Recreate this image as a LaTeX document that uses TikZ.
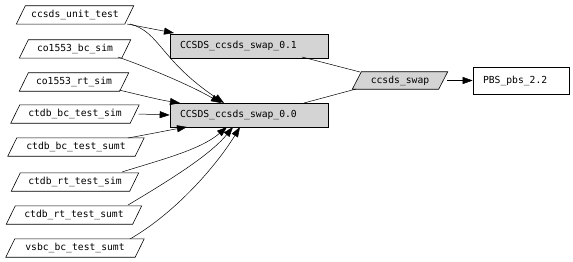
\documentclass[tikz,border=0pt]{standalone}
\usepackage{fontspec}
\setmonofont{DejaVu Sans Mono}
\usetikzlibrary{arrows.meta}
\begin{document}
\begin{tikzpicture}[x=1pt,y=-1pt,
  lbl/.style={font=\ttfamily\fontsize{9.7}{10}\selectfont, inner sep=0pt},
  src/.style={lbl, minimum height=18pt},
  box/.style={lbl, draw, line width=0.6pt, minimum height=24pt, anchor=center, align=left, inner xsep=10pt},
  grey/.style={fill=black!17},
  par/.style={draw, line width=0.6pt},
  edge/.style={line width=0.5pt},
  arr/.style={edge, -{Triangle[length=10pt,width=7pt]}}]
\useasboundingbox (0,0) rectangle (573,262);
% source parallelograms
\node[src, minimum width=108pt] (u)  at (75,15)  {ccsds\_unit\_test};
\node[src, minimum width=102pt] (bs) at (75,49)  {co1553\_bc\_sim};
\node[src, minimum width=100pt] (rs) at (74,82)  {co1553\_rt\_sim};
\node[src, minimum width=119pt] (ts) at (75,114) {ctdb\_bc\_test\_sim};
\node[src, minimum width=127pt] (tu) at (76,147) {ctdb\_bc\_test\_sumt};
\node[src, minimum width=118pt] (rsi) at (75,182) {ctdb\_rt\_test\_sim};
\node[src, minimum width=126pt] (rsu) at (74,215) {ctdb\_rt\_test\_sumt};
\node[src, minimum width=129pt] (vs) at (75,248) {vsbc\_bc\_test\_sumt};
\foreach \n in {u,bs,rs,ts,tu,rsi,rsu,vs}{
  \draw[par] ([xshift=-4.5pt]\n.south west) -- ([xshift=4.5pt]\n.north west)
    -- ([xshift=4.5pt]\n.north east) -- ([xshift=-4.5pt]\n.south east) -- cycle;
}
% boxes
\node[box, grey, text width=138pt] (c1) at (249,46) {CCSDS\_ccsds\_swap\_0.1};
\node[box, grey, text width=138pt] (c0) at (249,115) {CCSDS\_ccsds\_swap\_0.0};
\node[src, minimum width=86pt, minimum height=17pt] (sw) at (400,80.5) {ccsds\_swap};
\draw[par, fill=black!17] ([xshift=-4.5pt]sw.south west) -- ([xshift=4.5pt]sw.north west)
    -- ([xshift=4.5pt]sw.north east) -- ([xshift=-4.5pt]sw.south east) -- cycle;
\node[lbl] at (sw) {ccsds\_swap};
\node[box, text width=76pt, minimum height=27pt] (p) at (521,80.5) {PBS\_pbs\_2.2};
% coordinates for edge ends
\coordinate (c1in) at (174,33);
\coordinate (t1) at (224,103);
\coordinate (t2) at (221,103);
\coordinate (t3) at (180,103);
\coordinate (b1) at (187,127);
\coordinate (b2) at (227,127);
\coordinate (b3) at (233,127);
\coordinate (b4) at (240,127);
% edges
\draw[arr] (127,24) -- (c1in);
\draw[arr] (130,24) .. controls (160,32) and (160,60) .. (t1);
\draw[arr] (118,57) .. controls (160,72) and (195,88) .. (t2);
\draw[arr] (119,90) .. controls (140,95) and (160,100) .. (t3);
\draw[arr] (ts.east) ++(4pt,0) -- (c0.west);
\draw[arr] (128,138) .. controls (150,134) and (170,130) .. (b1);
\draw[arr] (122,172) .. controls (160,160) and (200,150) .. (b2);
\draw[arr] (128,205) .. controls (170,180) and (210,155) .. (b3);
\draw[arr] (130,239) .. controls (180,210) and (220,160) .. (b4);
\draw[edge] (302,57) -- (360,72);
\draw[edge] (304,103) -- (356,89);
\draw[arr] (sw.east) ++(4pt,0) -- (p.west);
\end{tikzpicture}
\end{document}
